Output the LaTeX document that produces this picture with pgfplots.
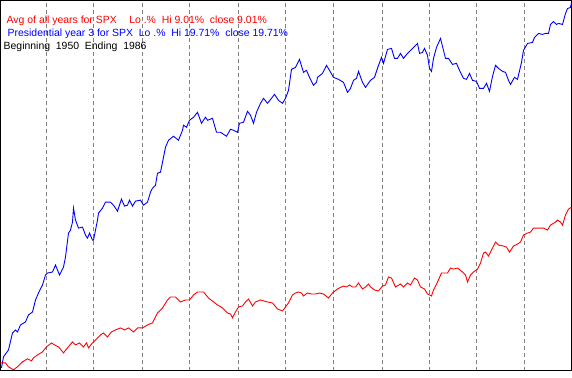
\documentclass[border=0pt]{standalone}
\usepackage{pgfplots}
\pgfplotsset{compat=1.18}
\usepackage{fontspec}
\setmainfont{Liberation Sans}
\begin{document}
\begin{tikzpicture}
\begin{axis}[
  width=572bp, height=371bp, scale only axis,
  xmin=0, xmax=571, ymin=0, ymax=371,
  axis line style={black, line width=1bp},
  xtick={46,93,142,189,238,285,333,382,429,476,524},
  xticklabels={}, ytick=\empty,
  major tick length=0pt,
  xmajorgrids,
  grid style={gray, line width=0.8bp, dash pattern=on 4bp off 3bp},
  clip=true,
]
% Presidential year 3 (blue), y = 371 - pixel row
\addplot[blue, line width=0.9bp] table {
x y
1 3
3 14
8 21
12 38
15 41
17 39
20 46
25 49
28 56
32 59
33 63
35 71
38 78
42 86
45 96
47 98
52 99
55 106
59 96
63 104
65 114
68 138
70 141
72 149
73 163
75 151
78 143
82 144
85 136
87 133
89 138
92 131
93 131
97 151
98 158
102 163
105 169
110 169
113 166
117 160
121 172
124 165
127 166
129 171
132 165
135 170
140 171
143 166
147 169
150 179
152 183
155 186
157 198
160 199
163 214
165 224
168 231
173 235
178 231
182 241
183 246
186 244
189 251
193 254
197 259
201 248
205 254
207 251
212 253
216 239
220 239
226 235
230 242
233 241
237 239
239 248
243 249
247 260
250 256
253 248
256 259
260 268
263 273
267 268
271 273
274 277
278 271
282 268
285 273
288 281
291 302
295 304
299 312
303 299
306 301
309 294
313 286
316 289
317 294
322 298
326 306
329 301
333 294
338 292
343 289
347 279
350 283
353 291
356 293
358 300
362 289
365 284
370 291
374 294
378 306
381 314
383 308
387 322
391 323
394 313
397 313
400 318
403 313
407 318
412 323
417 328
419 318
422 319
424 323
427 316
429 303
431 300
433 313
436 324
440 333
445 313
448 313
452 307
456 308
459 301
463 293
466 292
469 298
472 291
476 290
479 283
483 283
486 288
489 280
492 295
495 306
498 303
502 300
505 299
508 291
510 287
514 294
517 292
521 309
523 321
527 328
532 329
534 334
538 338
542 337
545 338
548 338
550 347
553 350
556 347
558 348
562 347
565 358
567 363
570 364
571 369
};
% Avg of all years (red)
\addplot[red, line width=0.9bp] table {
x y
0 8
5 8
8 4
13 1
17 4
22 9
27 12
31 10
33 13
37 16
42 19
46 24
51 28
54 26
58 24
63 18
67 23
72 29
75 26
79 28
83 24
86 28
88 23
92 28
97 33
100 36
103 38
107 34
111 39
115 41
120 43
124 41
128 43
133 39
137 43
142 43
147 46
152 48
157 58
162 63
167 71
170 74
175 74
180 69
185 71
189 71
193 76
197 79
203 79
208 73
217 66
222 63
227 58
230 57
232 53
235 59
238 64
242 65
245 69
248 72
252 65
255 69
260 71
267 69
272 68
277 62
282 60
285 64
288 68
292 76
295 78
298 79
301 78
303 75
307 78
311 77
315 77
319 78
323 77
328 73
332 78
337 82
343 85
346 84
349 86
352 84
355 84
358 88
362 82
365 84
368 87
370 84
374 81
378 80
382 85
385 86
388 94
391 93
395 84
400 87
403 84
407 88
410 86
414 93
417 91
420 84
424 82
427 77
431 75
433 81
437 89
441 98
447 98
450 103
453 102
457 103
462 99
465 96
467 89
470 96
473 99
477 102
480 108
483 118
485 119
488 115
492 123
495 129
498 126
503 125
506 124
509 119
513 125
517 127
520 129
523 136
527 138
530 139
533 143
538 143
543 143
547 141
550 146
555 149
557 151
560 149
562 146
565 156
568 162
571 164
};
\node[anchor=base west, text=red, font=\fontsize{10.5}{12}\selectfont, inner sep=0pt] at (axis cs:6,348) {Avg of all years for SPX\hspace{1.2em}Lo .\%\ \ Hi 9.01\%\ \ close 9.01\%};
\node[anchor=base west, text=blue, font=\fontsize{10.5}{12}\selectfont, inner sep=0pt] at (axis cs:7,335) {Presidential year 3 for SPX\ \ Lo .\%\ \ Hi 19.71\%\ \ close 19.71\%};
\node[anchor=base west, text=black, font=\fontsize{10.5}{12}\selectfont, inner sep=0pt] at (axis cs:3,322) {Beginning\ \ 1950\ \ Ending\ \ 1986};
\end{axis}
\end{tikzpicture}
\end{document}
